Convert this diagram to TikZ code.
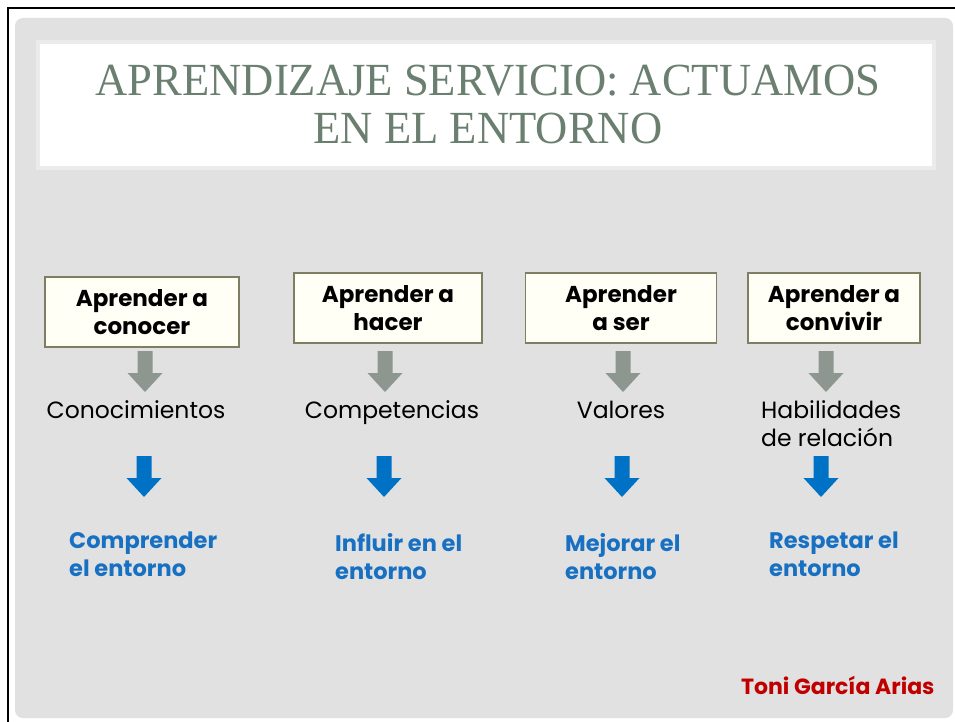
\documentclass[tikz,border=0pt]{standalone}
\usepackage{fontspec}
\setmainfont{Poppins}
\newfontfamily\titlefont[FakeStretch=0.97]{Liberation Serif}
\usetikzlibrary{calc}
\definecolor{panel}{HTML}{E1E1E1}
\definecolor{titlegreen}{HTML}{6B7F70}
\definecolor{boxline}{HTML}{7E7E62}
\definecolor{boxfill}{HTML}{FFFFF6}
\definecolor{stepgray}{HTML}{8D978F}
\definecolor{stepblue}{HTML}{0072C6}
\definecolor{goalblue}{HTML}{1870C2}
\definecolor{authorred}{HTML}{C00000}

% fat block arrow: colour, top point, tip point
\newcommand{\fatarrow}[3]{%
  \fill[#1] ($(#2)+(-7.5,0)$) -- ($(#3)+(-7.5,-19)$) -- ($(#3)+(-17.5,-19)$) -- (#3)
    -- ($(#3)+(17.5,-19)$) -- ($(#3)+(7.5,-19)$) -- ($(#2)+(7.5,0)$) -- cycle;}

\tikzset{
  learnbox/.style={draw=boxline, line width=1.6pt, fill=boxfill, minimum height=70pt,
    align=center, inner sep=2pt, font=\fontsize{23}{28}\selectfont\bfseries},
  skill/.style={align=left, inner sep=0pt, font=\fontsize{23.5}{28}\selectfont},
  goal/.style={align=left, inner sep=0pt, text=goalblue, font=\fontsize{22.5}{28}\selectfont\bfseries}
}

\begin{document}
\begin{tikzpicture}[x=1pt, y=-1pt]
  \useasboundingbox (0,0) rectangle (955,722);
  \fill[white] (0,0) rectangle (955,722);
  % slide frame and panel
  \fill[panel, rounded corners=8pt] (15,18) rectangle (953,718);
  \draw[black, line width=2.2pt] (8,722) -- (8,8) -- (955,8);
  \fill[white, draw=white!92!black, line width=4pt] (38,42) rectangle (934,168);
  \node[align=center, text=titlegreen, font=\titlefont\fontsize{46}{48}\selectfont] (title)
    at (488,104) {APRENDIZAJE SERVICIO: ACTUAMOS\\EN EL ENTORNO};

  % the four kinds of learning
  \node[learnbox, minimum width=194pt] (box1) at (142,312) {Aprender a\\conocer};
  \node[learnbox, minimum width=188pt] (box2) at (388,308) {Aprender a\\hacer};
  \node[learnbox, minimum width=191pt] (box3) at (621,308) {Aprender\\a ser};
  \node[learnbox, minimum width=172pt] (box4) at (834,308) {Aprender a\\convivir};

  \node[skill, anchor=base] (skill1) at (136,418) {Conocimientos};
  \node[skill, anchor=base] (skill2) at (392,418) {Competencias};
  \node[skill, anchor=base] (skill3) at (621,418) {Valores};
  \node[skill, anchor=base west] (skill4) at (761,446) {Habilidades\\de relación};

  \node[goal, anchor=west] (goal1) at (69,554) {Comprender\\el entorno};
  \node[goal, anchor=west] (goal2) at (335,557) {Influir en el\\entorno};
  \node[goal, anchor=west] (goal3) at (565,557) {Mejorar el\\entorno};
  \node[goal, anchor=west] (goal4) at (769,554) {Respetar el\\entorno};

  \node[anchor=east, text=authorred, font=\fontsize{22}{24}\selectfont\bfseries] (author)
    at (938,685) {Toni García Arias};

  % arrows between the rows
  \foreach \n/\gx/\bx in {1/145/144, 2/385/384, 3/623/622, 4/826/821} {
    \coordinate (gtop\n) at (\gx,351);
    \coordinate (gtip\n) at (\gx,392);
    \coordinate (btop\n) at (\bx,456);
    \coordinate (btip\n) at (\bx,497);
    \fatarrow{stepgray}{gtop\n}{gtip\n}
    \fatarrow{stepblue}{btop\n}{btip\n}
  }
\end{tikzpicture}
\end{document}
